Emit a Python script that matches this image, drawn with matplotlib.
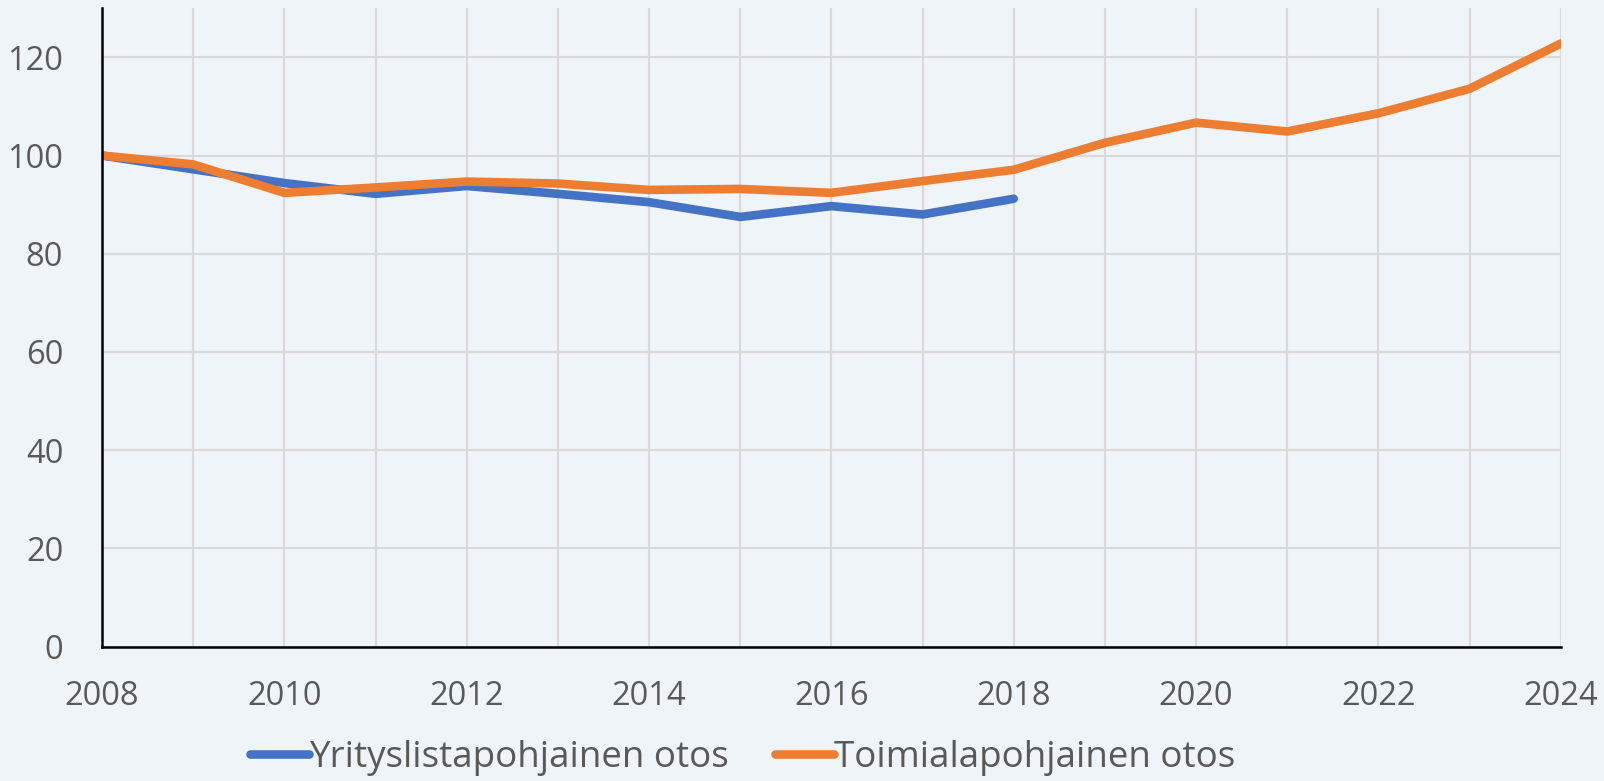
import matplotlib.pyplot as plt

years = list(range(2008, 2025))
yrityslista = [100, 97.2, 94.4, 92.2, 93.8, 92.2, 90.5, 87.5, 89.7, 88.0, 91.2]
toimiala = [100, 98.2, 92.4, 93.5, 94.7, 94.3, 93.0, 93.2, 92.4, 94.8, 97.1,
            102.6, 106.7, 104.9, 108.6, 113.6, 122.8]
xtick_labels = [str(y) if y % 2 == 0 else "" for y in years]
yticks = [0, 20, 40, 60, 80, 100, 120]

bg = "#EFF4F9"
plt.rcParams['font.family'] = ['Open Sans', 'DejaVu Sans']

fig = plt.figure(figsize=(16.04, 7.81), dpi=100, facecolor=bg)
ax = fig.add_axes([0.0636, 0.172, 0.9094, 0.8175], facecolor=bg)

ax.plot(years[:len(yrityslista)], yrityslista, color="#4472C4", lw=6.2,
        solid_capstyle="round", label="Yrityslistapohjainen otos")
ax.plot(years, toimiala, color="#ED7D31", lw=6.2,
        solid_capstyle="round", label="Toimialapohjainen otos")

ax.set_xlim(2008, 2024)
ax.set_ylim(0, 130)
ax.set_xticks(years)
ax.set_xticklabels(xtick_labels)
ax.set_yticks(yticks)
ax.grid(True, color="#D9D9D9", lw=1.5)
ax.set_axisbelow(True)
ax.tick_params(length=0, labelsize=23.5, colors="#595959")
ax.tick_params(axis="x", pad=24)
ax.tick_params(axis="y", pad=28)
for s in ["top", "right"]:
    ax.spines[s].set_visible(False)
for s in ["left", "bottom"]:
    ax.spines[s].set_color("black")
    ax.spines[s].set_linewidth(1.8)

leg = fig.legend(loc="center", bbox_to_anchor=(0.463, 0.03), ncol=2,
                 frameon=False, fontsize=26.5, handlelength=1.6,
                 handletextpad=0.0, columnspacing=1.25,
                 borderpad=0.0, borderaxespad=0.0)
for t in leg.get_texts():
    t.set_color("#595959")

fig.savefig("out.png", dpi=100, facecolor=bg)
